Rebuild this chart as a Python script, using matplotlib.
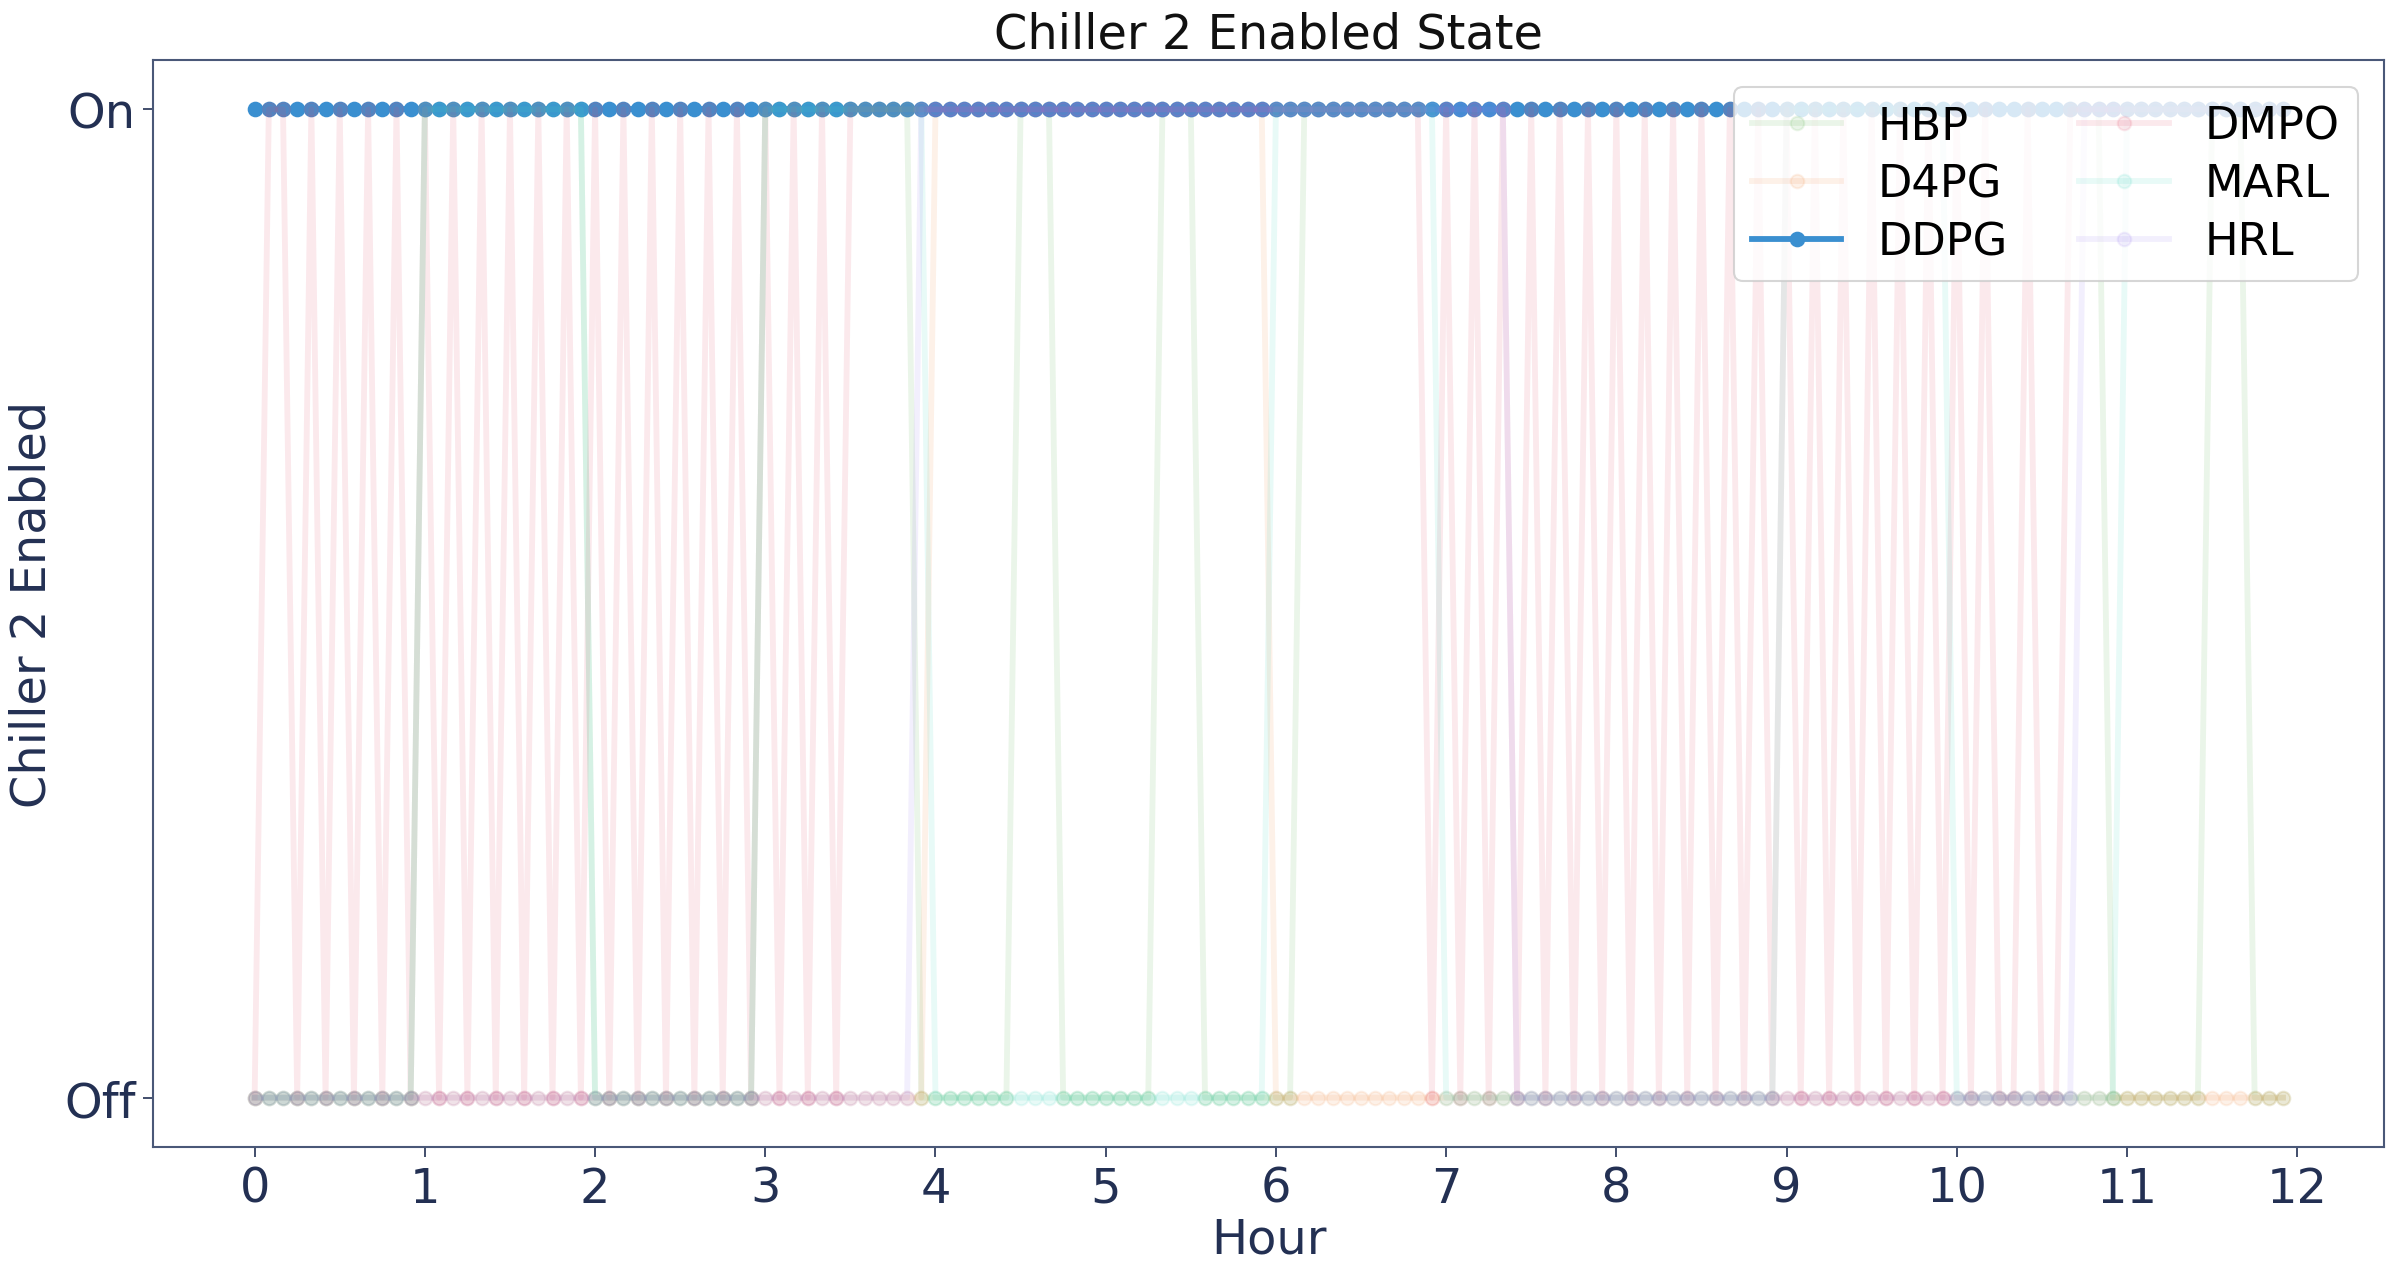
import numpy as np
import matplotlib
matplotlib.use("Agg")
import matplotlib.pyplot as plt

# 5-minute steps over 12 hours (144 samples); 1 = On, 0 = Off
n_steps = 144
hours = np.arange(n_steps) * 5 / 60

series_names = ["HBP", "D4PG", "DDPG", "DMPO", "MARL", "HRL"]

hbp_state = ("000000000000" "111111111111" "000000000000" "111111111110"
             "000000111000" "000011100000" "001111111111" "111111111111"
             "111111111111" "111111111111" "111111111110" "000000111000")
d4pg_state = ("000000000000" "000000000000" "000000000000" "000000000000"
              "111111111111" "111111111111" "000000000000" "000000000000"
              "000000000000" "000000000000" "000000000000" "000000000000")
ddpg_state = ("111111111111" "111111111111" "111111111111" "111111111111"
              "111111111111" "111111111111" "111111111111" "111111111111"
              "111111111111" "111111111111" "111111111111" "111111111111")
dmpo_state = ("011010101010" "101010101010" "101010101010" "101010111111"
              "111111111111" "111111111111" "111111111110" "101010101010"
              "101010101010" "101010101010" "101001001111" "111111111111")
marl_state = ("000000000000" "111111111111" "000000000000" "111111111111"
              "000000000000" "000000000000" "111111111111" "000000000000"
              "000000000000" "111111111111" "000000000000" "111111111111")
hrl_state = ("000000000000" "000000000000" "000000000000" "000000000001"
             "111111111111" "111111111111" "111111111111" "111110000000"
             "000000000000" "000000000000" "000000000111" "111111111111")

states = [hbp_state, d4pg_state, ddpg_state, dmpo_state, marl_state, hrl_state]
colors = ["#58b04a", "#f28c45", "#3a8fd0", "#e24a6a", "#45d6c0", "#9a7cf0"]
alphas = [0.12, 0.12, 1.0, 0.12, 0.12, 0.12]

ytick_labels = ["Off", "On"]
xticks = list(range(0, 13))

text_color = "#233053"

fig = plt.figure(figsize=(15.96, 8.453), dpi=150)
ax = fig.add_axes([0.064, 0.0946, 0.932, 0.8574])

for name, st, c, a in zip(series_names, states, colors, alphas):
    vals = [int(ch) for ch in st]
    ax.plot(hours, vals, color=c, alpha=a, lw=2.8, marker="o", ms=6.5, label=name)

ax.set_yticks([0, 1])
ax.set_yticklabels(ytick_labels)
ax.set_xticks(xticks)
ax.tick_params(labelsize=23, colors=text_color, length=5)
ax.set_xlabel("Hour", fontsize=23, color=text_color, labelpad=2)
ax.set_ylabel("Chiller 2 Enabled", fontsize=23, color=text_color)
ax.set_title("Chiller 2 Enabled State", fontsize=23, color="#111111")
for sp in ax.spines.values():
    sp.set_color("#4a5878")
    sp.set_linewidth(1.0)

leg = ax.legend(loc="upper right", ncol=2, fontsize=21.5, framealpha=0.8,
                borderaxespad=0.6, labelspacing=0.33, columnspacing=1.6)

fig.savefig("out.png", dpi=150)
